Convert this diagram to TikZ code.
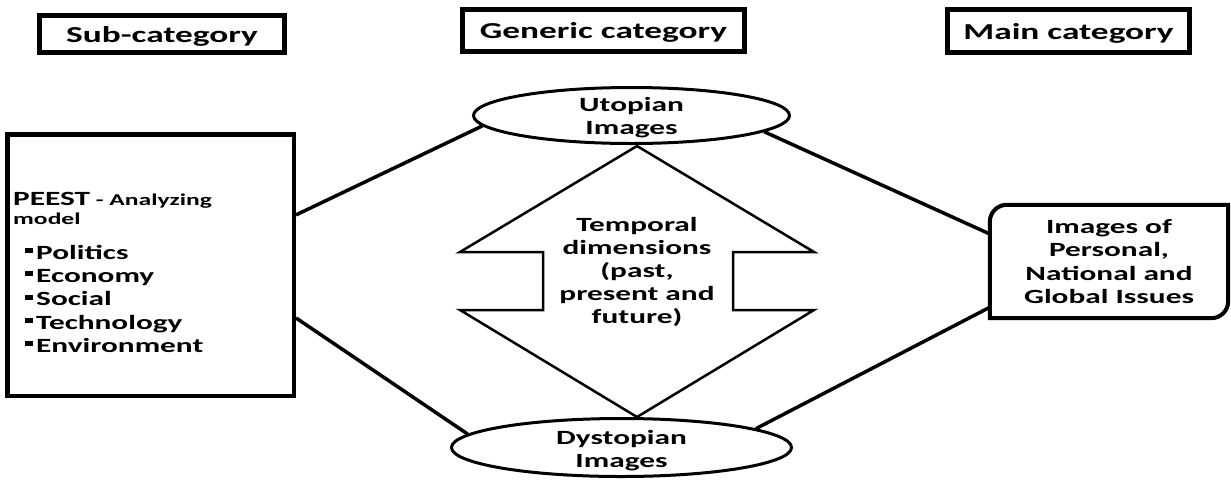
\documentclass[tikz,border=0pt]{standalone}
\usepackage{fontspec}
\setmainfont[FakeStretch=1.55]{Carlito}
\usetikzlibrary{shapes.geometric}

% font sizes used in the figure
\newcommand{\bodyfont}{\fontsize{20.2}{23.2}\selectfont\bfseries}
\newcommand{\headfont}{\fontsize{22.8}{26}\selectfont\bfseries}
\newcommand{\smallfont}{\fontsize{16.5}{19}\selectfont\bfseries}
% small square bullet for the list
\newcommand{\sqbul}{\rule[6.3pt]{8pt}{5pt}\hspace{3pt}}

\begin{document}
\begin{tikzpicture}[x=1pt,y=-1pt,
  header/.style={draw, line width=4.5pt, inner sep=0pt, text height=16pt, text depth=0pt, font=\headfont},
  ellnode/.style={ellipse, draw, line width=3pt, inner sep=0pt},
  connector/.style={line width=3.5pt},
  txt/.style={inner sep=0pt, font=\bodyfont, align=center}
]
\useasboundingbox (0,0) rectangle (1231,480);

% column headings
\node[header, minimum width=245pt, minimum height=37pt] (sub) at (162,34) {Sub-category};
\node[header, minimum width=282pt, minimum height=42pt] (gen) at (603.5,30.5) {Generic category};
\node[header, minimum width=242pt, minimum height=43pt] (main) at (1068.5,31) {Main category};

% PEEST analysing model
\node[draw, line width=4.5pt, minimum width=286.5pt, minimum height=261.5pt, inner sep=0pt] (peestbox) at (150.5,265) {};
\node[anchor=north west, inner sep=0pt, align=left, font=\smallfont] (peest) at (13,192)
  {{\fontsize{20.2}{19}\selectfont PEEST} - Analyzing\\model};
\node[anchor=north west, inner sep=0pt, align=left, font=\bodyfont] (peestlist) at (25,245)
  {\sqbul Politics\\\sqbul Economy\\\sqbul Social\\\sqbul Technology\\\sqbul Environment};

% temporal double arrow
\draw[line width=2.5pt, line join=miter]
  (637,146) -- (814,252) -- (733,252) -- (733,310) -- (814,310) -- (637,417)
  -- (460,310) -- (543,310) -- (543,252) -- (460,252) -- cycle;
\node[txt] (temporal) at (637,272) {Temporal\\dimensions\\(past,\\present and\\future)};

% utopian / dystopian images
\node[ellnode, minimum width=316pt, minimum height=56pt] (uto) at (631.5,115.5) {};
\node[txt] (utotext) at (631.5,117.5) {Utopian\\Images};
\node[ellnode, minimum width=340pt, minimum height=58pt] (dys) at (621.5,447.5) {};
\node[txt] (dystext) at (621.5,451) {Dystopian\\Images};

% main category box with two rounded corners
\node[minimum width=238pt, minimum height=113pt, inner sep=0pt, align=center, font=\bodyfont] (issues) at (1109,261.5)
  {Images of\\Personal,\\National and\\Global Issues};
\draw[line width=4pt] (issues.south west) -- ([yshift=-17pt]issues.north west)
  arc[start angle=180, end angle=270, radius=17] -- (issues.north east)
  -- ([yshift=17pt]issues.south east) arc[start angle=0, end angle=90, radius=17] -- cycle;

% connectors
\draw[connector] (peestbox.19) -- (uto.184);
\draw[connector] (peestbox.-20) -- (dys.175);
\draw[connector] (uto.-7) -- (issues.167);
\draw[connector] (dys.8) -- (issues.201);
\end{tikzpicture}
\end{document}
